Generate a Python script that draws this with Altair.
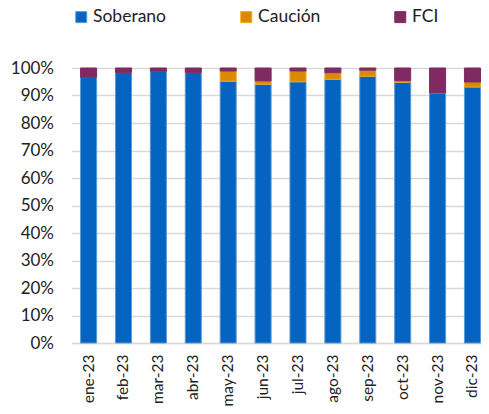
import altair as alt
import pandas as pd

months = ["ene-23", "feb-23", "mar-23", "abr-23", "may-23", "jun-23",
          "jul-23", "ago-23", "sep-23", "oct-23", "nov-23", "dic-23"]
soberano = [96.6, 98.4, 98.8, 98.4, 95.2, 94.1, 95.0, 95.9, 97.0, 94.8, 90.9, 93.1]
caucion = [0.0, 0.0, 0.0, 0.0, 3.7, 1.2, 3.9, 2.4, 2.2, 0.6, 0.0, 1.8]
fci = [3.4, 1.6, 1.2, 1.6, 1.1, 4.7, 1.1, 1.7, 0.8, 4.6, 9.1, 5.1]

series = ["Soberano", "Caución", "FCI"]
fills = ["#0563C1", "#D98A00", "#7F2B62"]
strokes = ["#5B9BD5", "#F5A623", "#7F2B62"]

rows = []
for i, m in enumerate(months):
    for j, (name, vals) in enumerate(zip(series, [soberano, caucion, fci])):
        rows.append({"mes": m, "serie": name, "valor": vals[i], "orden": j})
df = pd.DataFrame(rows)

font = "Lato"

chart = alt.Chart(df).mark_bar(strokeWidth=1).encode(
    x=alt.X("mes:N", sort=months, title=None,
            scale=alt.Scale(paddingInner=0.54, paddingOuter=0.13, align=1),
            axis=alt.Axis(labelAngle=270, labelAlign="right", labelBaseline="middle",
                          labelFontSize=15.5, labelPadding=11, ticks=False,
                          domainColor="#D9D9D9", domainWidth=1.5, labelColor="#222",
                          labelFont=font)),
    y=alt.Y("valor:Q", stack="normalize", title=None,
            scale=alt.Scale(domain=[0, 1]),
            axis=alt.Axis(format=".0%", values=[i / 10 for i in range(11)],
                          labelFontSize=17, labelPadding=18, ticks=False, domain=False,
                          gridColor="#D9D9D9", gridWidth=1.5, labelColor="#222",
                          labelFont=font)),
    color=alt.Color("serie:N", sort=series,
                    scale=alt.Scale(domain=series, range=fills),
                    legend=alt.Legend(title=None, orient="none", direction="horizontal",
                                      legendX=1, legendY=-60, padding=0,
                                      symbolType="square", symbolSize=121,
                                      symbolStrokeWidth=1, labelFontSize=17.5,
                                      labelOffset=3, columnPadding=71,
                                      labelColor="#222", labelFont=font)),
    stroke=alt.Stroke("serie:N", sort=series,
                      scale=alt.Scale(domain=series, range=strokes), legend=None),
    order=alt.Order("orden:Q", sort="ascending"),
).properties(
    width=409, height=275,
    autosize=alt.AutoSizeParams(type="none"),
    padding={"left": 63.5, "top": 60, "right": 0, "bottom": 63},
).configure_view(stroke=None)

chart.save("out.html", embed_options={"renderer": "svg", "actions": False})
